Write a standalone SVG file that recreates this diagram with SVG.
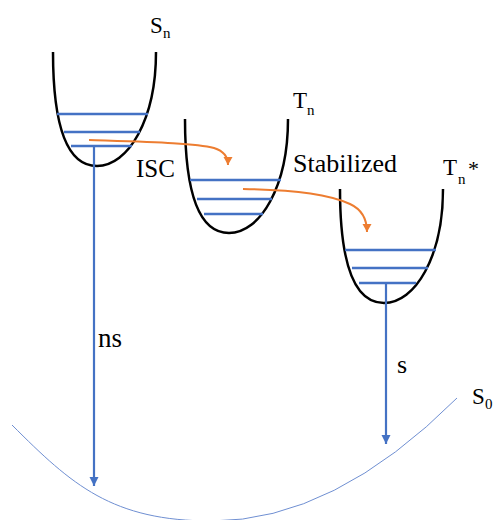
<svg xmlns="http://www.w3.org/2000/svg" xmlns:xlink="http://www.w3.org/1999/xlink" width="497" height="520" viewBox="0 0 497 520">
<style>
.well{fill:none;stroke:#000;stroke-width:2.5}
.lvl{stroke:#4472C4;stroke-width:2.5}
.decay{stroke:#4472C4;stroke-width:2.2;fill:none}
.isc{stroke:#ED7D31;stroke-width:2;fill:none}
text{font-family:"Liberation Serif","Times New Roman","DejaVu Serif",serif;fill:#000}
</style>
<defs>
<path id="well" d="M0,0 C0,78 15,114 44,114 C75,114 103,68 103,0"/>
<marker id="ah-blue" markerWidth="10" markerHeight="10" refX="9" refY="4.5" orient="auto" markerUnits="userSpaceOnUse">
<path d="M0,0 L9,4.5 L0,9 Z" fill="#4472C4"/>
</marker>
<marker id="ah-orange" markerWidth="10" markerHeight="10" refX="8" refY="4.5" orient="auto" markerUnits="userSpaceOnUse">
<path d="M0,0 L8,4.5 L0,9 Z" fill="#ED7D31"/>
</marker>
</defs>

<g id="S0">
<path d="M12,425 C72,485 112,521 212,521 Q334,521 457,398" fill="none" stroke="#6F8FD2" stroke-width="1"/>
<text x="472" y="404" font-size="23">S</text>
<text x="485" y="409" font-size="15">0</text>
</g>

<g id="Sn">
<use xlink:href="#well" class="well" transform="translate(53,52)"/>
<line class="lvl" x1="57" y1="114" x2="148" y2="114"/>
<line class="lvl" x1="64" y1="132" x2="140" y2="132"/>
<line class="lvl" x1="71" y1="146" x2="132" y2="146"/>
<text x="150" y="33" font-size="23">S</text>
<text x="163" y="38" font-size="15">n</text>
</g>

<g id="Tn">
<use xlink:href="#well" class="well" transform="translate(185,119)"/>
<line class="lvl" x1="190" y1="180" x2="281" y2="180"/>
<line class="lvl" x1="197" y1="199" x2="272" y2="199"/>
<line class="lvl" x1="204" y1="214" x2="263" y2="214"/>
<text x="293" y="108" font-size="23">T</text>
<text x="307" y="115" font-size="15">n</text>
</g>

<g id="TnStar">
<use xlink:href="#well" class="well" transform="translate(340,189)"/>
<line class="lvl" x1="345" y1="250" x2="436" y2="250"/>
<line class="lvl" x1="352" y1="268" x2="428" y2="268"/>
<line class="lvl" x1="359" y1="283" x2="416" y2="283"/>
<text x="443" y="175" font-size="23">T</text>
<text x="458" y="184" font-size="15">n</text>
<text x="468" y="176" font-size="22">*</text>
</g>

<g id="connectors">
<path class="isc" d="M89,140 C150,142 195,143 214,148 C227,152 228,160 228,165" marker-end="url(#ah-orange)"/>
<path class="isc" d="M243,189 C300,190 330,195 350,204 C363,210 367,220 367,232" marker-end="url(#ah-orange)"/>
<line class="decay" x1="94" y1="146" x2="94" y2="486" marker-end="url(#ah-blue)"/>
<line class="decay" x1="386" y1="283" x2="386" y2="444" marker-end="url(#ah-blue)"/>
</g>

<g id="labels">
<text x="136" y="177" font-size="25">ISC</text>
<text x="293" y="172" font-size="26">Stabilized</text>
<text x="98" y="347" font-size="27">ns</text>
<text x="397" y="373" font-size="26">s</text>
</g>
</svg>
